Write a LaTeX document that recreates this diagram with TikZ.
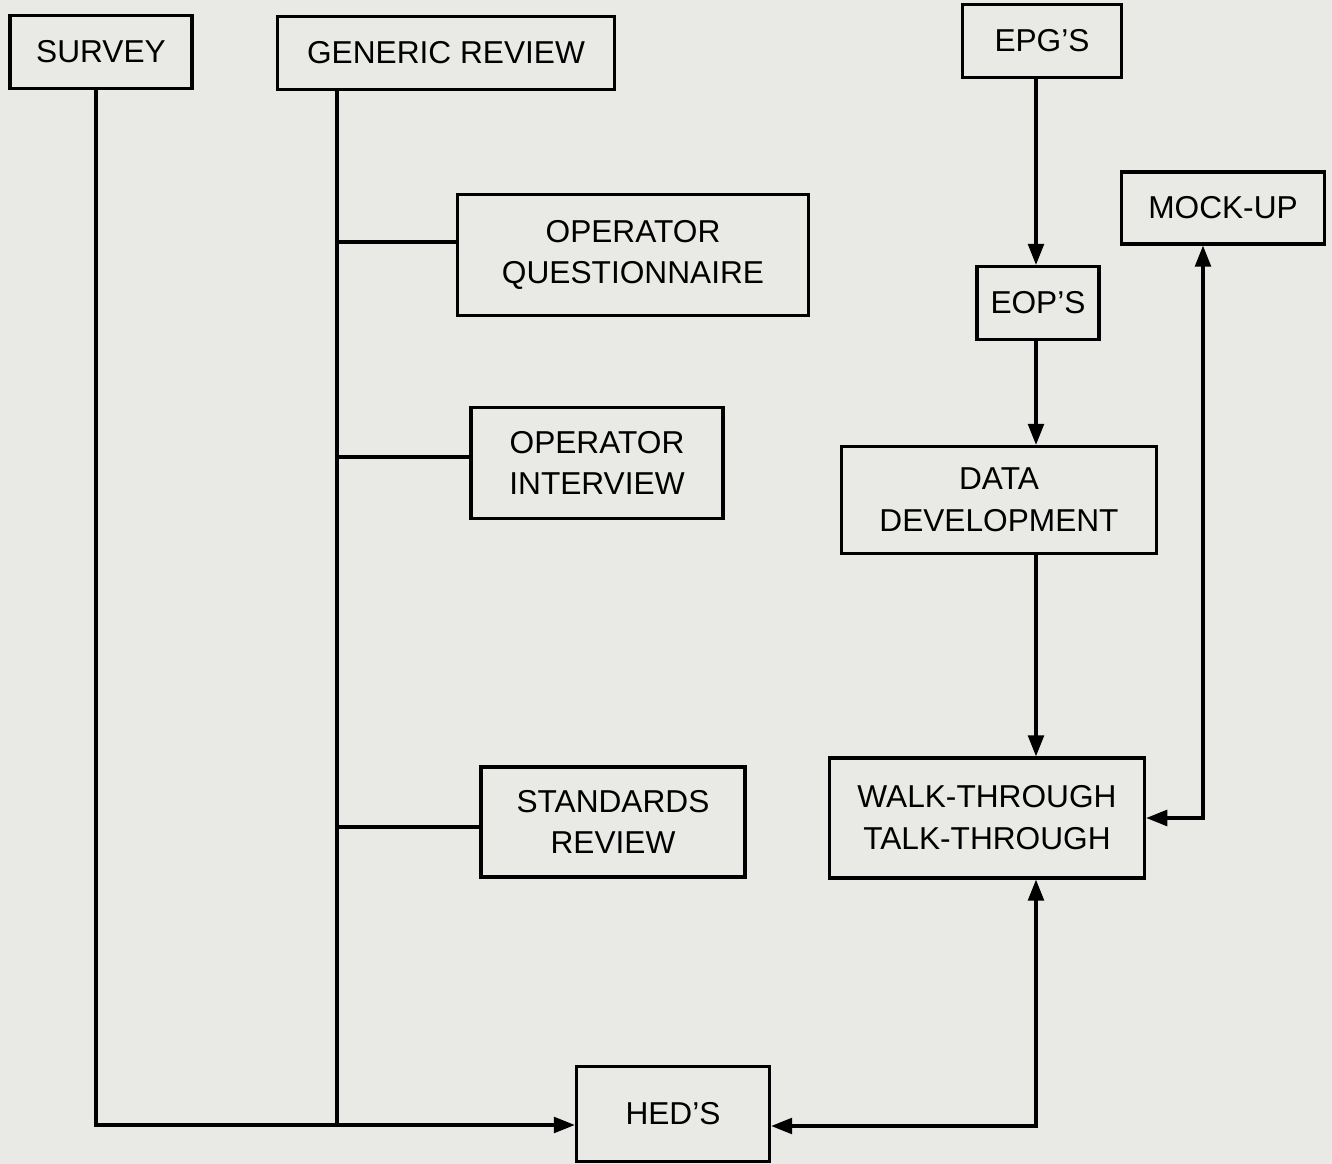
\documentclass[tikz,border=0pt]{standalone}
\usepackage{fontspec}
\setmainfont{Liberation Sans}
\usetikzlibrary{arrows.meta, positioning}
\definecolor{scan}{RGB}{233,233,229}

\begin{document}
\begin{tikzpicture}[x=0.01cm, y=-0.01cm, line width=0.9pt,
    box/.style={draw, align=center, inner sep=0pt,
      font=\fontsize{9}{11.9}\selectfont},
    arr/.style={-{Triangle[length=6pt,width=4.5pt]}},
    dbl/.style={{Triangle[length=6pt,width=4.5pt]}-{Triangle[length=6pt,width=4.5pt]}}]
    \fill[scan] (0,0) rectangle (1332,1164);
    \useasboundingbox (0,0) rectangle (1332,1164);
    % boxes
    \node[box, minimum width=1.82cm, minimum height=0.73cm] (survey) at (101,52) {SURVEY};
    \node[box, minimum width=3.37cm, minimum height=0.73cm] (generic) at (446,53) {GENERIC REVIEW};
    \node[box, minimum width=1.59cm, minimum height=0.73cm] (epg) at (1042,41) {EPG'S};
    \node[box, minimum width=2.03cm, minimum height=0.72cm] (mockup) at (1223,208) {MOCK-UP};
    \node[box, minimum width=3.50cm, minimum height=1.21cm] (oq) at (633,255) {OPERATOR\\QUESTIONNAIRE};
    \node[box, minimum width=1.22cm, minimum height=0.73cm] (eop) at (1038,303) {EOP'S};
    \node[box, minimum width=2.52cm, minimum height=1.11cm] (oi) at (597,463) {OPERATOR\\INTERVIEW};
    \node[box, minimum width=3.15cm, minimum height=1.07cm] (dd) at (999,500) {DATA\\DEVELOPMENT};
    \node[box, minimum width=2.64cm, minimum height=1.10cm] (sr) at (613,822) {STANDARDS\\REVIEW};
    \node[box, minimum width=3.15cm, minimum height=1.20cm] (walk) at (987,818) {WALK-THROUGH\\TALK-THROUGH};
    \node[box, minimum width=1.93cm, minimum height=0.95cm] (heds) at (673,1114) {HED'S};
    % trunk lines
    \coordinate (gtop) at (337,90);
    \coordinate (col) at (1036,0);
    \coordinate (mcol) at (1203,0);
    \coordinate (hin) at ([yshift=-0.11cm]heds.west);
    \coordinate (hout) at ([yshift=-0.12cm]heds.east);
    \draw[arr] (survey.south -| 96,0) |- (hin);
    \draw (gtop) -- (gtop |- hin);
    \foreach \n/\s in {oq/0.13, oi/0.06, sr/-0.05}{
      \coordinate (br) at ([yshift=\s cm]\n.west);
      \draw (gtop |- br) -- (br);
    }
    % right column
    \draw[arr] (col |- epg.south) -- (col |- eop.north);
    \draw[arr] (col |- eop.south) -- (col |- dd.north);
    \draw[arr] (col |- dd.south) -- (col |- walk.north);
    \draw[dbl] (hout) -| (col |- walk.south);
    \draw[dbl] (walk.east) -| (mcol |- mockup.south);
\end{tikzpicture}
\end{document}
